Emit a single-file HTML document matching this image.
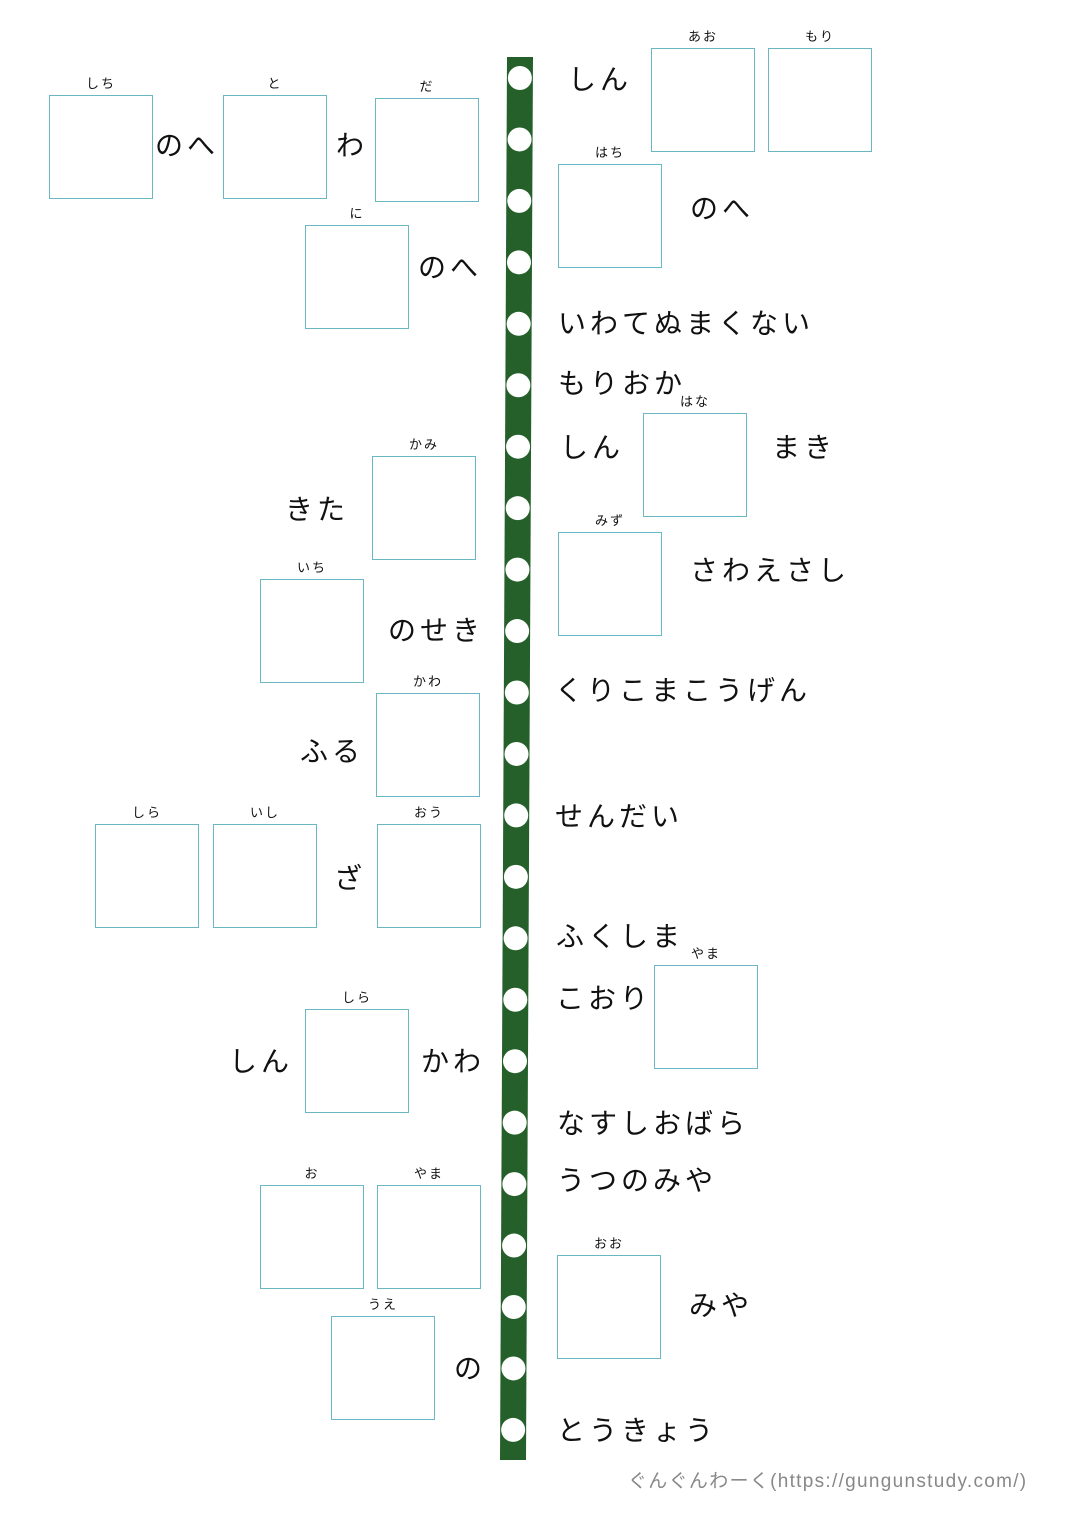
<!DOCTYPE html>
<html><head><meta charset="utf-8"><style>
body{margin:0;width:1086px;height:1536px;background:#fff;position:relative;overflow:hidden;font-family:"Liberation Sans","Noto Sans CJK JP",sans-serif;color:#111}
.b{position:absolute;width:102px;height:102px;border:1.6px solid #6ab6c2;box-sizing:content-box}
.t{position:absolute;font-size:28px;letter-spacing:4px;line-height:40px;white-space:nowrap}
.l{position:absolute;font-size:13px;line-height:16px;width:104px;text-align:center;letter-spacing:2px}
</style></head><body>
<svg width="1086" height="1536" style="position:absolute;left:0;top:0">
<polygon points="507,57 533,57 526,1460 500,1460" fill="#25602b"/>
<g fill="#fff" id="c"></g>
</svg>
<script>
var g=document.getElementById('c'),s='';
for(var i=0;i<23;i++){var y=78+i*61.45;var x=520-7*(y-57)/1403;s+='<circle cx="'+x+'" cy="'+y+'" r="12"/>';}
g.innerHTML=s;
var B=[[49,95,'しち'],[223,95,'と'],[375,98,'だ'],[305,225,'に'],[372,456,'かみ'],[260,579,'いち'],[376,693,'かわ'],[95,824,'しら'],[213,824,'いし'],[377,824,'おう'],[305,1009,'しら'],[260,1185,'お'],[377,1185,'やま'],[331,1316,'うえ'],[651,48,'あお'],[768,48,'もり'],[558,164,'はち'],[643,413,'はな'],[558,532,'みず'],[654,965,'やま'],[557,1255,'おお']];
var T=[[155,146,'のへ'],[336,146,'わ'],[418,268,'のへ'],[285,510,'きた'],[388,631,'のせき'],[300,752,'ふる'],[334,879,'ざ'],[229,1062,'しん'],[421,1062,'かわ'],[454,1369,'の'],[568,80,'しん'],[690,209,'のへ'],[558,324,'いわてぬまくない'],[558,384,'もりおか'],[560,448,'しん'],[772,448,'まき'],[690,571,'さわえさし'],[555,691,'くりこまこうげん'],[555,817,'せんだい'],[556,937,'ふくしま'],[556,999,'こおり'],[557,1124,'なすしおばら'],[557,1181,'うつのみや'],[689,1306,'みや'],[557,1431,'とうきょう']];
var h='';
B.forEach(function(b){h+='<div class="b" style="left:'+b[0]+'px;top:'+b[1]+'px"></div><div class="l" style="left:'+b[0]+'px;top:'+(b[1]-19)+'px">'+b[2]+'</div>';});
T.forEach(function(t){h+='<div class="t" style="left:'+t[0]+'px;top:'+(t[1]-20)+'px">'+t[2]+'</div>';});
document.body.insertAdjacentHTML('beforeend',h);
</script>
<div style="position:absolute;left:628px;top:1466px;font-size:19px;letter-spacing:1.3px;color:#888;white-space:nowrap">ぐんぐんわーく(https://gungunstudy.com/)</div>
</body></html>
